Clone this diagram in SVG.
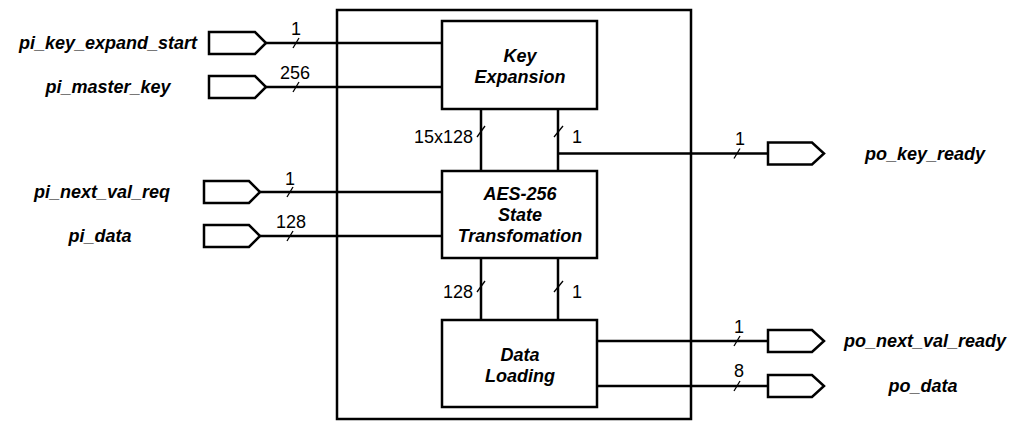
<svg xmlns="http://www.w3.org/2000/svg" width="1035" height="431" viewBox="0 0 1035 431">
<style>
.box{fill:#fff;stroke:#000;stroke-width:2.5}
.port{fill:#fff;stroke:#000;stroke-width:2.5;stroke-linejoin:miter}
.wire{fill:none;stroke:#000;stroke-width:2.5}
.tick{stroke:#000;stroke-width:1.3}
.lbl{font-family:"Liberation Sans",Arial,sans-serif;font-size:18px;font-weight:bold;font-style:italic;fill:#000;text-anchor:middle}
.num{font-family:"Liberation Sans",Arial,sans-serif;font-size:18px;fill:#000}
</style>
<rect width="1035" height="431" fill="#fff"/>
<g id="top_module"><rect class="box" x="337" y="10" width="354" height="409"/></g>
<g id="connectors">
<line class="wire" x1="266" y1="43" x2="442" y2="43"/>
<line class="wire" x1="266" y1="87" x2="442" y2="87"/>
<line class="wire" x1="260" y1="192" x2="442" y2="192"/>
<line class="wire" x1="260" y1="236" x2="442" y2="236"/>
<line class="wire" x1="481" y1="109" x2="481" y2="171"/>
<line class="wire" x1="558" y1="109" x2="558" y2="171"/>
<line class="wire" x1="558" y1="153.5" x2="768" y2="153.5"/>
<line class="wire" x1="481" y1="258" x2="481" y2="320"/>
<line class="wire" x1="558" y1="258" x2="558" y2="320"/>
<line class="wire" x1="597" y1="341" x2="768" y2="341"/>
<line class="wire" x1="597" y1="386" x2="768" y2="386"/>
<line class="tick" x1="293" y1="48" x2="299" y2="38"/>
<line class="tick" x1="293" y1="92" x2="299" y2="82"/>
<line class="tick" x1="287" y1="197" x2="293" y2="187"/>
<line class="tick" x1="287" y1="241" x2="293" y2="231"/>
<line class="tick" x1="477" y1="137" x2="485" y2="126"/>
<line class="tick" x1="554" y1="137" x2="563" y2="126"/>
<line class="tick" x1="477" y1="292" x2="485" y2="281"/>
<line class="tick" x1="554" y1="292" x2="563" y2="281"/>
<line class="tick" x1="734" y1="158.5" x2="740" y2="148.5"/>
<line class="tick" x1="734" y1="346" x2="740" y2="336"/>
<line class="tick" x1="734" y1="391" x2="740" y2="381"/>
<text class="num" x="296" y="35" text-anchor="middle">1</text>
<text class="num" x="295" y="79" text-anchor="middle">256</text>
<text class="num" x="290" y="185" text-anchor="middle">1</text>
<text class="num" x="291" y="228" text-anchor="middle">128</text>
<text class="num" x="473" y="143" text-anchor="end">15x128</text>
<text class="num" x="572" y="143">1</text>
<text class="num" x="473" y="298" text-anchor="end">128</text>
<text class="num" x="572" y="298">1</text>
<text class="num" x="740" y="145" text-anchor="middle">1</text>
<text class="num" x="739" y="333" text-anchor="middle">1</text>
<text class="num" x="739" y="377" text-anchor="middle">8</text>
</g>
<g id="key_expansion">
<rect class="box" x="442" y="21" width="155" height="88"/>
<text class="lbl" x="520" y="62">Key</text>
<text class="lbl" x="520" y="83">Expansion</text>
</g>
<g id="aes_state">
<rect class="box" x="442" y="171" width="155" height="87"/>
<text class="lbl" x="520" y="200">AES-256</text>
<text class="lbl" x="520" y="221">State</text>
<text class="lbl" x="520" y="242">Transfomation</text>
</g>
<g id="data_loading">
<rect class="box" x="442" y="320" width="155" height="87"/>
<text class="lbl" x="520" y="361">Data</text>
<text class="lbl" x="520" y="382">Loading</text>
</g>
<g id="pi_key_expand_start">
<polygon class="port" points="209,32 255,32 266,43 255,54 209,54"/>
<text class="lbl" x="108" y="49">pi_key_expand_start</text>
</g>
<g id="pi_master_key">
<polygon class="port" points="209,76 255,76 266,87 255,98 209,98"/>
<text class="lbl" x="108" y="93">pi_master_key</text>
</g>
<g id="pi_next_val_req">
<polygon class="port" points="204,181 249,181 260,192 249,203 204,203"/>
<text class="lbl" x="102" y="198">pi_next_val_req</text>
</g>
<g id="pi_data">
<polygon class="port" points="204,225 249,225 260,236 249,247 204,247"/>
<text class="lbl" x="100" y="242">pi_data</text>
</g>
<g id="po_key_ready">
<polygon class="port" points="768,142.5 812,142.5 824,153.5 812,164.5 768,164.5"/>
<text class="lbl" x="925" y="160">po_key_ready</text>
</g>
<g id="po_next_val_ready">
<polygon class="port" points="768,330 812,330 824,341 812,352 768,352"/>
<text class="lbl" x="925" y="347">po_next_val_ready</text>
</g>
<g id="po_data">
<polygon class="port" points="768,375 812,375 824,386 812,397 768,397"/>
<text class="lbl" x="923" y="392">po_data</text>
</g>
</svg>
